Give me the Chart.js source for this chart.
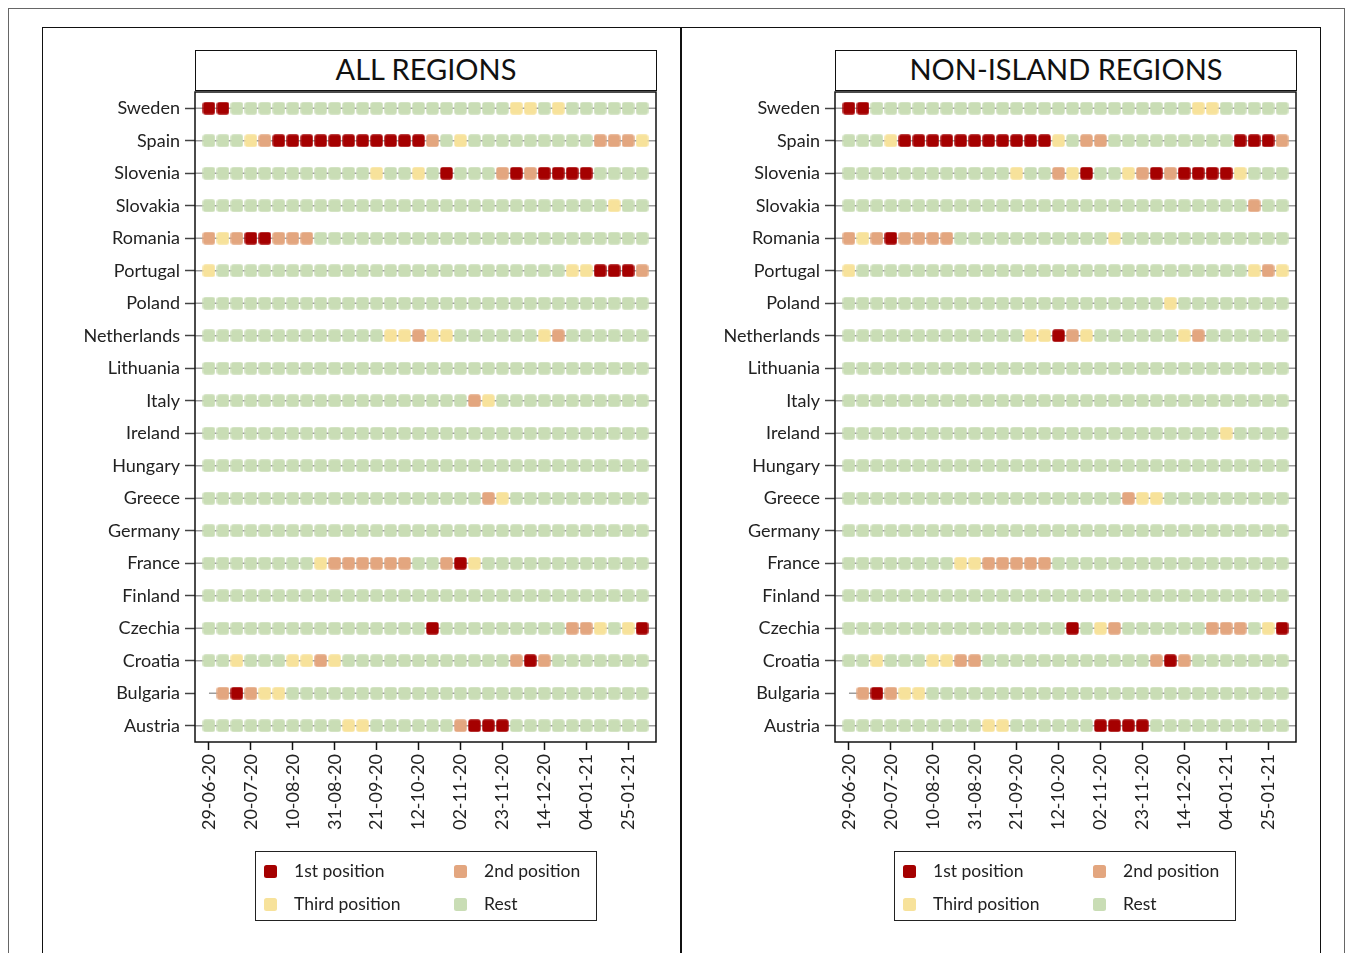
<!DOCTYPE html>
<html>
<head>
<meta charset="utf-8">
<script src="https://cdn.jsdelivr.net/npm/chart.js@4"></script>
<style>
  html, body { margin:0; padding:0; background:#fff; }
  body { width:1357px; height:953px; overflow:hidden; position:relative; font-family:Lato, "Open Sans", sans-serif; color:#222; }
  .abs { position:absolute; }
  #outer { left:8px; top:8px; width:1335px; height:990px; border:1px solid #666; }
  #inner { left:42px; top:27px; width:1277px; height:990px; border:1.5px solid #111; }
  #divider { left:680px; top:27px; width:2px; height:960px; background:#111; z-index:5; }
  .ttl { height:41px; border:1.5px solid #111; box-sizing:border-box; text-align:center; line-height:36px; font-size:29px; color:#111; z-index:4; background:#fff; }
  canvas { position:absolute; }
  .leg { width:342px; height:70px; border:1.5px solid #222; box-sizing:border-box; font-size:17.5px; color:#222; }
  .sw { position:absolute; width:13px; height:13px; border-radius:2.5px; }
  .lt { position:absolute; line-height:20px; white-space:nowrap; }
</style>
</head>
<body>
<div id="outer" class="abs"></div>
<div id="inner" class="abs"></div>
<div id="divider" class="abs"></div>

<div class="abs ttl" style="left:195px; top:50px; width:462px;">ALL REGIONS</div>
<div class="abs ttl" style="left:835px; top:50px; width:462px;">NON-ISLAND REGIONS</div>

<canvas id="cAll" width="620" height="900" style="left:60px; top:40px;"></canvas>
<canvas id="cNon" width="620" height="900" style="left:700px; top:40px;"></canvas>

<div id="legAll" class="abs leg" style="left:255px; top:851px;"></div>
<div id="legNon" class="abs leg" style="left:894px; top:851px;"></div>

<script>
// ---------- categories ----------
const countries = ['Sweden','Spain','Slovenia','Slovakia','Romania','Portugal','Poland','Netherlands','Lithuania','Italy','Ireland','Hungary','Greece','Germany','France','Finland','Czechia','Croatia','Bulgaria','Austria'];

const weeks = ['29-06-20','06-07-20','13-07-20','20-07-20','27-07-20','03-08-20','10-08-20','17-08-20','24-08-20','31-08-20',
               '07-09-20','14-09-20','21-09-20','28-09-20','05-10-20','12-10-20','19-10-20','26-10-20','02-11-20','09-11-20',
               '16-11-20','23-11-20','30-11-20','07-12-20','14-12-20','21-12-20','28-12-20','04-01-21','11-01-21','18-01-21',
               '25-01-21','01-02-21'];

// every third week is labelled on the axis
const tickWeeks = ['29-06-20','20-07-20','10-08-20','31-08-20','21-09-20','12-10-20','02-11-20','23-11-20','14-12-20','04-01-21','25-01-21'];

// position codes: 1 = 1st, 2 = 2nd, 3 = third, 0 = rest, null = no data
const positionNames = ['Rest','1st position','2nd position','Third position'];
const positionColors = ['#C9DDB5','#A50000','#E3A67F','#F7E29B'];

// ---------- ALL REGIONS ----------
const ALL_Sweden      = [1,1,0,0,0,0,0,0,0,0, 0,0,0,0,0,0,0,0,0,0, 0,0,3,3,0,3,0,0,0,0, 0,0];
const ALL_Spain       = [0,0,0,3,2,1,1,1,1,1, 1,1,1,1,1,1,2,0,3,0, 0,0,0,0,0,0,0,0,2,2, 2,3];
const ALL_Slovenia    = [0,0,0,0,0,0,0,0,0,0, 0,0,3,0,0,3,0,1,0,0, 0,2,1,2,1,1,1,1,0,0, 0,0];
const ALL_Slovakia    = [0,0,0,0,0,0,0,0,0,0, 0,0,0,0,0,0,0,0,0,0, 0,0,0,0,0,0,0,0,0,3, 0,0];
const ALL_Romania     = [2,3,2,1,1,2,2,2,0,0, 0,0,0,0,0,0,0,0,0,0, 0,0,0,0,0,0,0,0,0,0, 0,0];
const ALL_Portugal    = [3,0,0,0,0,0,0,0,0,0, 0,0,0,0,0,0,0,0,0,0, 0,0,0,0,0,0,3,3,1,1, 1,2];
const ALL_Poland      = [0,0,0,0,0,0,0,0,0,0, 0,0,0,0,0,0,0,0,0,0, 0,0,0,0,0,0,0,0,0,0, 0,0];
const ALL_Netherlands = [0,0,0,0,0,0,0,0,0,0, 0,0,0,3,3,2,3,3,0,0, 0,0,0,0,3,2,0,0,0,0, 0,0];
const ALL_Lithuania   = [0,0,0,0,0,0,0,0,0,0, 0,0,0,0,0,0,0,0,0,0, 0,0,0,0,0,0,0,0,0,0, 0,0];
const ALL_Italy       = [0,0,0,0,0,0,0,0,0,0, 0,0,0,0,0,0,0,0,0,2, 3,0,0,0,0,0,0,0,0,0, 0,0];
const ALL_Ireland     = [0,0,0,0,0,0,0,0,0,0, 0,0,0,0,0,0,0,0,0,0, 0,0,0,0,0,0,0,0,0,0, 0,0];
const ALL_Hungary     = [0,0,0,0,0,0,0,0,0,0, 0,0,0,0,0,0,0,0,0,0, 0,0,0,0,0,0,0,0,0,0, 0,0];
const ALL_Greece      = [0,0,0,0,0,0,0,0,0,0, 0,0,0,0,0,0,0,0,0,0, 2,3,0,0,0,0,0,0,0,0, 0,0];
const ALL_Germany     = [0,0,0,0,0,0,0,0,0,0, 0,0,0,0,0,0,0,0,0,0, 0,0,0,0,0,0,0,0,0,0, 0,0];
const ALL_France      = [0,0,0,0,0,0,0,0,3,2, 2,2,2,2,2,0,0,2,1,3, 0,0,0,0,0,0,0,0,0,0, 0,0];
const ALL_Finland     = [0,0,0,0,0,0,0,0,0,0, 0,0,0,0,0,0,0,0,0,0, 0,0,0,0,0,0,0,0,0,0, 0,0];
const ALL_Czechia     = [0,0,0,0,0,0,0,0,0,0, 0,0,0,0,0,0,1,0,0,0, 0,0,0,0,0,0,2,2,3,0, 3,1];
const ALL_Croatia     = [0,0,3,0,0,0,3,3,2,3, 0,0,0,0,0,0,0,0,0,0, 0,0,2,1,2,0,0,0,0,0, 0,0];
const ALL_Bulgaria    = [null,2,1,2,3,3,0,0,0,0, 0,0,0,0,0,0,0,0,0,0, 0,0,0,0,0,0,0,0,0,0, 0,0];
const ALL_Austria     = [0,0,0,0,0,0,0,0,0,0, 3,3,0,0,0,0,0,0,2,1, 1,1,0,0,0,0,0,0,0,0, 0,0];

// ---------- NON-ISLAND REGIONS ----------
const NON_Sweden      = [1,1,0,0,0,0,0,0,0,0, 0,0,0,0,0,0,0,0,0,0, 0,0,0,0,0,3,3,0,0,0, 0,0];
const NON_Spain       = [0,0,0,3,1,1,1,1,1,1, 1,1,1,1,1,3,0,2,2,0, 0,0,0,0,0,0,0,0,1,1, 1,2];
const NON_Slovenia    = [0,0,0,0,0,0,0,0,0,0, 0,0,3,0,0,2,3,1,0,0, 3,2,1,2,1,1,1,1,3,0, 0,0];
const NON_Slovakia    = [0,0,0,0,0,0,0,0,0,0, 0,0,0,0,0,0,0,0,0,0, 0,0,0,0,0,0,0,0,0,2, 0,0];
const NON_Romania     = [2,3,2,1,2,2,2,2,0,0, 0,0,0,0,0,0,0,0,0,3, 0,0,0,0,0,0,0,0,0,0, 0,0];
const NON_Portugal    = [3,0,0,0,0,0,0,0,0,0, 0,0,0,0,0,0,0,0,0,0, 0,0,0,0,0,0,0,0,0,3, 2,3];
const NON_Poland      = [0,0,0,0,0,0,0,0,0,0, 0,0,0,0,0,0,0,0,0,0, 0,0,0,3,0,0,0,0,0,0, 0,0];
const NON_Netherlands = [0,0,0,0,0,0,0,0,0,0, 0,0,0,3,3,1,2,3,0,0, 0,0,0,0,3,2,0,0,0,0, 0,0];
const NON_Lithuania   = [0,0,0,0,0,0,0,0,0,0, 0,0,0,0,0,0,0,0,0,0, 0,0,0,0,0,0,0,0,0,0, 0,0];
const NON_Italy       = [0,0,0,0,0,0,0,0,0,0, 0,0,0,0,0,0,0,0,0,0, 0,0,0,0,0,0,0,0,0,0, 0,0];
const NON_Ireland     = [0,0,0,0,0,0,0,0,0,0, 0,0,0,0,0,0,0,0,0,0, 0,0,0,0,0,0,0,3,0,0, 0,0];
const NON_Hungary     = [0,0,0,0,0,0,0,0,0,0, 0,0,0,0,0,0,0,0,0,0, 0,0,0,0,0,0,0,0,0,0, 0,0];
const NON_Greece      = [0,0,0,0,0,0,0,0,0,0, 0,0,0,0,0,0,0,0,0,0, 2,3,3,0,0,0,0,0,0,0, 0,0];
const NON_Germany     = [0,0,0,0,0,0,0,0,0,0, 0,0,0,0,0,0,0,0,0,0, 0,0,0,0,0,0,0,0,0,0, 0,0];
const NON_France      = [0,0,0,0,0,0,0,0,3,3, 2,2,2,2,2,0,0,0,0,0, 0,0,0,0,0,0,0,0,0,0, 0,0];
const NON_Finland     = [0,0,0,0,0,0,0,0,0,0, 0,0,0,0,0,0,0,0,0,0, 0,0,0,0,0,0,0,0,0,0, 0,0];
const NON_Czechia     = [0,0,0,0,0,0,0,0,0,0, 0,0,0,0,0,0,1,0,3,2, 0,0,0,0,0,0,2,2,2,0, 3,1];
const NON_Croatia     = [0,0,3,0,0,0,3,3,2,2, 0,0,0,0,0,0,0,0,0,0, 0,0,2,1,2,0,0,0,0,0, 0,0];
const NON_Bulgaria    = [null,2,1,2,3,3,0,0,0,0, 0,0,0,0,0,0,0,0,0,0, 0,0,0,0,0,0,0,0,0,0, 0,0];
const NON_Austria     = [0,0,0,0,0,0,0,0,0,0, 3,3,0,0,0,0,0,0,1,1, 1,1,0,0,0,0,0,0,0,0, 0,0];

const allRows = [ALL_Sweden, ALL_Spain, ALL_Slovenia, ALL_Slovakia, ALL_Romania, ALL_Portugal, ALL_Poland, ALL_Netherlands,
  ALL_Lithuania, ALL_Italy, ALL_Ireland, ALL_Hungary, ALL_Greece, ALL_Germany, ALL_France, ALL_Finland, ALL_Czechia,
  ALL_Croatia, ALL_Bulgaria, ALL_Austria];
const nonRows = [NON_Sweden, NON_Spain, NON_Slovenia, NON_Slovakia, NON_Romania, NON_Portugal, NON_Poland, NON_Netherlands,
  NON_Lithuania, NON_Italy, NON_Ireland, NON_Hungary, NON_Greece, NON_Germany, NON_France, NON_Finland, NON_Czechia,
  NON_Croatia, NON_Bulgaria, NON_Austria];

// ---------- drawing ----------
const FONT = 'Lato, "Open Sans", sans-serif';
const TEXT = '#222';

function squareImage(color) {
  const c = document.createElement('canvas');
  c.width = 13; c.height = 13;
  const g = c.getContext('2d');
  g.fillStyle = color;
  g.beginPath();
  g.roundRect(0.3, 0.3, 12.4, 12.4, 2.6);
  g.fill();
  return c;
}
const squareImages = positionColors.map(squareImage);

const framePlugin = {
  id: 'frame',
  afterDraw(chart) {
    const { ctx, chartArea: a } = chart;
    ctx.save();
    ctx.strokeStyle = '#111';
    ctx.lineWidth = 1.5;
    ctx.strokeRect(a.left, a.top, a.right - a.left, a.bottom - a.top);
    ctx.restore();
  }
};

function buildChart(canvasId, rows) {
  const xMin = -1, xMax = weeks.length;
  const datasets = [];
  // markers, one dataset per position class
  [1, 2, 3, 0].forEach(code => {
    const pts = [];
    rows.forEach((row, r) => row.forEach((v, w) => { if (v === code) pts.push({ x: w, y: r }); }));
    datasets.push({
      label: positionNames[code], data: pts, pointStyle: squareImages[code],
      pointRadius: 6.5, pointHoverRadius: 6.5, order: 0, showLine: false
    });
  });
  // connecting row lines (from the week before first observation to right edge)
  rows.forEach((row, r) => {
    const first = row.findIndex(v => v !== null);
    datasets.push({
      label: 'row' + r, data: [{ x: first - 1, y: r }, { x: xMax, y: r }],
      showLine: true, borderColor: '#9d9d9d', borderWidth: 1.5, pointRadius: 0, order: 10
    });
  });

  return new Chart(document.getElementById(canvasId), {
    type: 'scatter',
    data: { datasets },
    options: {
      responsive: false, animation: false, events: [],
      layout: { padding: { top: 52, right: 24, left: 0, bottom: 0 } },
      plugins: { legend: { display: false }, tooltip: { enabled: false } },
      scales: {
        x: {
          type: 'linear', min: xMin, max: xMax,
          afterFit: s => { s.height = 198; },
          afterBuildTicks: s => { s.ticks = tickWeeks.map(t => ({ value: weeks.indexOf(t) })); },
          grid: { drawOnChartArea: false, drawTicks: true, tickLength: 8, tickColor: '#111', tickWidth: 1.5 },
          border: { display: false },
          ticks: { autoSkip: false, minRotation: 90, maxRotation: 90, padding: 4, color: TEXT,
                   font: { family: FONT, size: 18 }, callback: v => weeks[v] }
        },
        y: {
          type: 'linear', reverse: true, min: -0.5, max: countries.length - 0.5,
          afterFit: s => { s.width = 135; },
          afterBuildTicks: s => { s.ticks = countries.map((c, i) => ({ value: i })); },
          grid: { drawOnChartArea: false, drawTicks: true, tickLength: 10, tickColor: '#444', tickWidth: 1.5 },
          border: { display: false },
          ticks: { autoSkip: false, padding: 5, color: TEXT, font: { family: FONT, size: 18 },
                   callback: v => countries[v] }
        }
      }
    },
    plugins: [framePlugin]
  });
}

function buildLegend(id) {
  const el = document.getElementById(id);
  const items = [[1, 8, 20], [2, 198, 20], [3, 8, 53], [0, 198, 53]];
  items.forEach(([code, x, y]) => {
    const sw = document.createElement('div');
    sw.className = 'sw';
    sw.style.left = x + 'px'; sw.style.top = (y - 7) + 'px';
    sw.style.background = positionColors[code];
    el.appendChild(sw);
    const t = document.createElement('div');
    t.className = 'lt';
    t.style.left = (x + 30) + 'px'; t.style.top = (y - 11) + 'px';
    t.textContent = positionNames[code];
    el.appendChild(t);
  });
}

buildChart('cAll', allRows);
buildChart('cNon', nonRows);
buildLegend('legAll');
buildLegend('legNon');
</script>
</body>
</html>
